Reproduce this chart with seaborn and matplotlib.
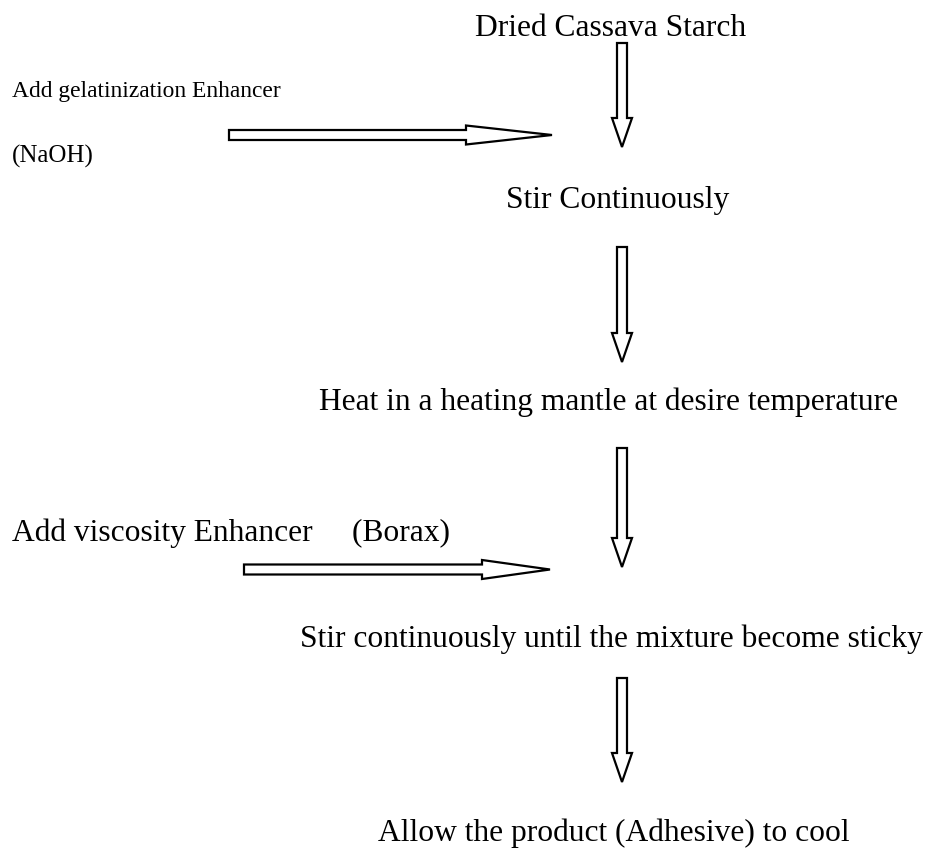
import matplotlib
matplotlib.use("Agg")
import matplotlib.pyplot as plt
import seaborn as sns

# flow steps (main column) and side inputs
steps = [
    "Dried Cassava Starch",
    "Stir Continuously",
    "Heat in a heating mantle at desire temperature",
    "Stir continuously until the mixture become sticky",
    "Allow the product (Adhesive) to cool",
]
side_inputs = [
    ["Add gelatinization Enhancer", "(NaOH)"],
    ["Add viscosity Enhancer     (Borax)"],
]

# layout (pixel units, y grows downwards)
step_x = [475, 506, 319, 300, 378]
step_y = [36, 208, 410, 647, 841]
side_x = 12
side_y = [[97, 163], [541]]
side_size = [[16.9, 18.0], [22.7]]

down_x = 622
down_arrows = [(43, 147), (247, 362), (448, 567), (678, 782)]
side_arrows = [(229, 552, 135, 86), (244, 550, 569.5, 68)]

sns.set_theme(style="white")
plt.rcParams["font.family"] = ["Liberation Serif", "DejaVu Serif"]

W, H = 930, 848
fig = plt.figure(figsize=(W / 100, H / 100), dpi=100)
ax = fig.add_axes([0, 0, 1, 1])
ax.set_xlim(0, W)
ax.set_ylim(H, 0)
ax.axis("off")

for label, x, y in zip(steps, step_x, step_y):
    ax.text(x, y, label, fontsize=22.7, ha="left", va="baseline", color="black")

for lines, ys, sizes in zip(side_inputs, side_y, side_size):
    for label, y, fs in zip(lines, ys, sizes):
        ax.text(side_x, y, label, fontsize=fs, ha="left", va="baseline", color="black")

for y0, y1 in down_arrows:
    ax.arrow(down_x, y0, 0, y1 - y0, width=10, head_width=20, head_length=29,
             length_includes_head=True, fc="white", ec="black", lw=1.6)

for x0, x1, y, hl in side_arrows:
    ax.arrow(x0, y, x1 - x0, 0, width=10, head_width=19, head_length=hl,
             length_includes_head=True, fc="white", ec="black", lw=1.6)

fig.savefig("out.png", dpi=100)
